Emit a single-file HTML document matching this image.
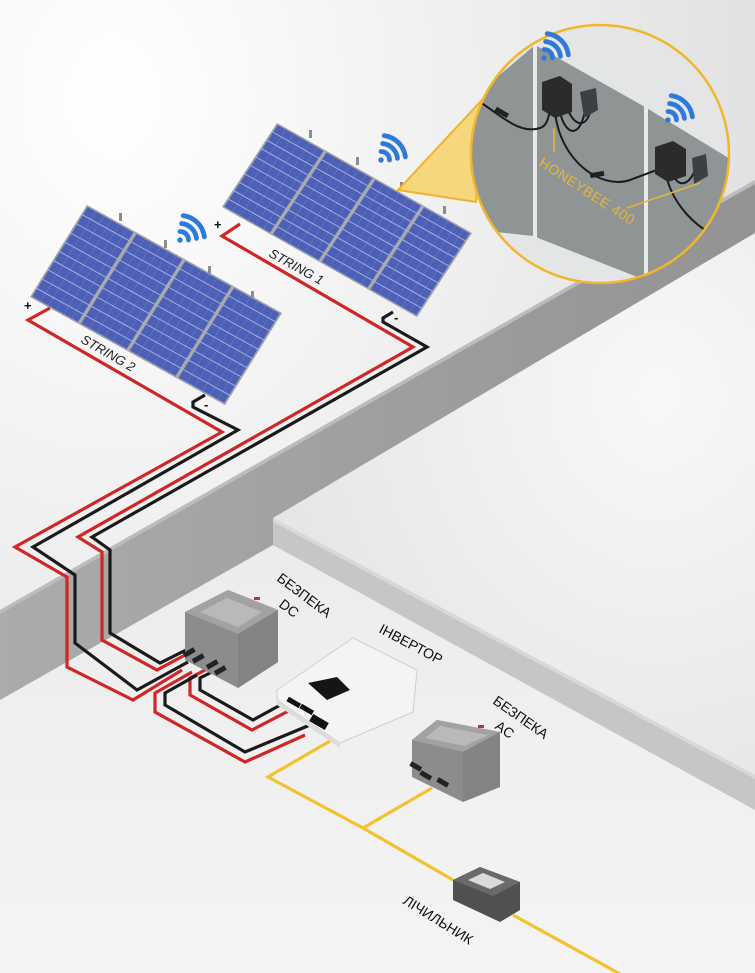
<!DOCTYPE html>
<html><head><meta charset="utf-8"><style>
html,body{margin:0;padding:0;background:#eee;}
svg{display:block;}
text{font-family:"Liberation Sans",sans-serif;}
</style></head><body>
<svg width="755" height="973" viewBox="0 0 755 973" xmlns="http://www.w3.org/2000/svg">
<defs>
<radialGradient id="bg" cx="0.15" cy="0.1" r="0.9">
<stop offset="0" stop-color="#ffffff"/><stop offset="0.6" stop-color="#ededed"/><stop offset="1" stop-color="#e0e0e0"/></radialGradient>
<linearGradient id="beam" x1="0" y1="0" x2="1" y2="0">
<stop offset="0" stop-color="#ababab"/><stop offset="1" stop-color="#939393"/></linearGradient>
<radialGradient id="fl" cx="0.8" cy="0.3" r="0.8">
<stop offset="0" stop-color="#f8f8f8"/><stop offset="1" stop-color="#e6e6e6"/></radialGradient>
<linearGradient id="lf" x1="0" y1="0" x2="0" y2="1">
<stop offset="0" stop-color="#ececec"/><stop offset="1" stop-color="#f4f4f4"/></linearGradient>
<clipPath id="cc"><circle cx="600" cy="154" r="129"/></clipPath>
<g id="arr">
<rect x="0" y="0" width="1" height="1" fill="#9aa0a8"/>
<rect x="0.008" y="0.015" width="0.234" height="0.97" fill="#4d60b6"/>
<rect x="0.258" y="0.015" width="0.234" height="0.97" fill="#4d60b6"/>
<rect x="0.508" y="0.015" width="0.234" height="0.97" fill="#4d60b6"/>
<rect x="0.758" y="0.015" width="0.234" height="0.97" fill="#4d60b6"/>
<path vector-effect="non-scaling-stroke" stroke="#7082cc" stroke-width="0.5" d="M0.05,0V1M0.09,0V1M0.13,0V1M0.17,0V1M0.21,0V1M0.30,0V1M0.34,0V1M0.38,0V1M0.42,0V1M0.46,0V1M0.55,0V1M0.59,0V1M0.63,0V1M0.67,0V1M0.71,0V1M0.80,0V1M0.84,0V1M0.88,0V1M0.92,0V1M0.96,0V1"/>
<path vector-effect="non-scaling-stroke" stroke="#a9b6e8" stroke-width="0.9" d="M0,0.1H1M0,0.2H1M0,0.3H1M0,0.4H1M0,0.5H1M0,0.6H1M0,0.7H1M0,0.8H1M0,0.9H1"/>
<path vector-effect="non-scaling-stroke" d="M0.25,0V1M0.5,0V1M0.75,0V1" stroke="#a8acb2" stroke-width="2.5"/>
</g>
<g id="wifi" fill="none" stroke="#2f7ad8" stroke-linecap="round" stroke-width="3.2">
<path d="M-4,-4 A5.6,5.6 0 0 1 4,-4"/>
<path d="M-7,-8.5 A11,11 0 0 1 7,-8.5"/>
<path d="M-10,-13 A16.4,16.4 0 0 1 10,-13"/>
<circle cx="0" cy="0" r="1.8" fill="#2f7ad8" stroke="none"/>
</g>
</defs>

<rect width="755" height="973" fill="url(#bg)"/>
<polygon points="273,518 755,233 755,775" fill="url(#fl)"/>
<polygon points="0,700 273,545 755,810 755,973 0,973" fill="url(#lf)"/>
<polygon points="273,518 755,775 755,810 273,545" fill="#c6c6c6"/>
<polygon points="273,518 755,775 755,779 273,522" fill="#d8d8d8"/>
<polygon points="0,610 755,180 755,233 273,518 273,545 0,700" fill="url(#beam)"/>
<polygon points="0,610 755,180 755,184 0,614" fill="#bcbcbc"/>

<g transform="matrix(195,110,-55,84,277,123)"><use href="#arr"/></g>
<g transform="matrix(195,108,-57,92,87,205)"><use href="#arr"/></g>
<g fill="#8a8e94">
<rect x="309" y="130" width="3" height="8"/><rect x="356" y="157" width="3" height="8"/><rect x="400" y="182" width="3" height="8"/><rect x="443" y="206" width="3" height="8"/>
<rect x="119" y="213" width="3" height="8"/><rect x="164" y="240" width="3" height="8"/><rect x="208" y="266" width="3" height="8"/><rect x="251" y="291" width="3" height="8"/>
</g>

<polygon points="398,190 482,100 476,202" fill="#f6d77e" stroke="#efb52a" stroke-width="2"/>
<g clip-path="url(#cc)">
<rect x="460" y="20" width="280" height="270" fill="#8f9595"/>
<polygon points="460,20 740,20 740,165 645,107 535,45 470,100 460,105" fill="#e3e5e6"/>
<polygon points="460,228 533,236 645,280 740,300 740,300 460,300" fill="#e3e5e6"/>
<rect x="533" y="44" width="4" height="194" fill="#e8eaea"/>
<rect x="644" y="106" width="4" height="178" fill="#e8eaea"/>
<g fill="none" stroke="#1b1b1b" stroke-width="2">
<path d="M480,102 C500,115 520,135 540,128 C550,125 548,110 552,108"/>
<path d="M555,112 C560,160 600,190 630,180 C650,172 660,170 665,165"/>
<path d="M560,112 C565,135 580,140 585,110"/>
<path d="M568,110 C575,128 590,130 592,100"/>
<path d="M665,170 C670,200 690,220 705,230"/>
<path d="M672,170 C676,190 692,188 698,160"/>
</g>
<rect x="495" y="110" width="14" height="5" fill="#222" transform="rotate(30 502 112)"/>
<rect x="590" y="172" width="14" height="5" fill="#222" transform="rotate(-10 597 174)"/>
<polygon points="542,82 560,76 572,84 572,112 555,118 542,110" fill="#2b2b2b"/>
<polygon points="580,92 596,88 598,110 584,118" fill="#3d3f44"/>
<polygon points="655,147 673,141 686,149 686,176 668,182 655,174" fill="#2b2b2b"/>
<polygon points="692,158 706,154 708,176 694,184" fill="#3d3f44"/>
<path d="M554,128 V152 M700,183 L627,208" stroke="#e8b53a" stroke-width="1.5"/>
<text transform="translate(538,165) rotate(33)" font-size="14" fill="#e8b53a" letter-spacing="0.5">HONEYBEE 400</text>
</g>
<circle cx="600" cy="154" r="129" fill="none" stroke="#f0b62c" stroke-width="2.5"/>

<use href="#wifi" transform="translate(544,58) rotate(45) scale(1.5)"/>
<use href="#wifi" transform="translate(668,120) rotate(45) scale(1.5)"/>
<use href="#wifi" transform="translate(381,160) rotate(45) scale(1.5)"/>
<use href="#wifi" transform="translate(180,240) rotate(45) scale(1.5)"/>

<g fill="none" stroke-width="3.2">
<path d="M240,224 L222,236 L413,347 L78,537 L102,552 L102,640 L157,670 L185,655" stroke="#d02626"/>
<path d="M393,312 L383,318 L383,322 L427,347 L92,537 L110,550 L110,633 L160,663 L190,648" stroke="#1a1a1a"/>
<path d="M50,308 L28,320 L222,432 L15,547 L67,577 L67,667 L133,700 L182,670" stroke="#d02626"/>
<path d="M205,395 L193,402 L193,407 L238,430 L33,547 L75,575 L75,643 L137,690 L188,662" stroke="#1a1a1a"/>
<path d="M212,672 L200,678 L200,690 L253,720 L295,697" stroke="#1a1a1a"/>
<path d="M207,669 L190,678 L190,695 L252,730 L300,705" stroke="#d02626"/>
<path d="M197,675 L165,693 L165,705 L245,752 L310,725" stroke="#1a1a1a"/>
<path d="M192,672 L155,693 L155,712 L245,762 L305,735" stroke="#d02626"/>
</g>
<g font-size="13" font-weight="bold" fill="#111">
<text x="214" y="229">+</text><text x="24" y="310">+</text>
<text x="394" y="322">-</text><text x="204" y="409">-</text>
</g>
<text transform="translate(268,256) rotate(29)" font-size="13" font-style="italic" fill="#222">STRING 1</text>
<text transform="translate(80,342) rotate(30)" font-size="13" font-style="italic" fill="#222">STRING 2</text>

<g fill="none" stroke="#f2c12e" stroke-width="3.2">
<path d="M337,737 L268,777 L363,828 L453,880"/>
<path d="M513,915 L640,985"/>
<path d="M363,828 L432,788"/>
</g>

<polygon points="185,612 228,590 278,610 278,662 238,688 185,660" fill="#8c8c8c"/>
<polygon points="185,612 228,590 278,610 238,634" fill="#a2a2a2"/>
<polygon points="200,612 227,598 262,612 238,627" fill="#b9b9b9"/>
<polygon points="238,634 278,610 278,662 238,688" fill="#838383"/>
<g fill="#222"><rect x="183" y="650" width="12" height="5" transform="rotate(-30 189 652)"/><rect x="192" y="656" width="12" height="5" transform="rotate(-30 198 658)"/><rect x="206" y="662" width="12" height="5" transform="rotate(-30 212 664)"/><rect x="214" y="668" width="12" height="5" transform="rotate(-30 220 670)"/></g>
<rect x="254" y="597" width="6" height="3" fill="#c03030"/>

<polygon points="277,690 353,638 417,670 413,712 340,743 277,700" fill="#f4f4f4" stroke="#cfcfcf"/>
<polygon points="277,700 340,743 340,748 277,705" fill="#dcdcdc"/>
<polygon points="308,683 337,677 350,690 327,700" fill="#151515"/>
<g fill="#111"><rect x="287" y="700" width="14" height="5" transform="rotate(30 294 702)"/><rect x="300" y="707" width="14" height="5" transform="rotate(30 307 709)"/><rect x="310" y="718" width="18" height="8" transform="rotate(30 319 722)"/></g>

<polygon points="412,740 437,720 500,732 500,787 463,802 412,777" fill="#8c8c8c"/>
<polygon points="412,740 437,720 500,732 463,752" fill="#a2a2a2"/>
<polygon points="425,738 440,726 488,735 465,746" fill="#b9b9b9"/>
<polygon points="463,752 500,732 500,787 463,802" fill="#838383"/>
<g fill="#222"><rect x="410" y="764" width="12" height="5" transform="rotate(30 416 766)"/><rect x="420" y="773" width="12" height="5" transform="rotate(30 426 775)"/><rect x="437" y="780" width="12" height="5" transform="rotate(30 443 782)"/></g>
<rect x="478" y="725" width="6" height="3" fill="#c03030"/>

<polygon points="453,880 480,867 520,882 520,910 500,922 453,900" fill="#505050"/>
<polygon points="453,880 480,867 520,882 493,896" fill="#6a6a6a"/>
<polygon points="468,880 483,873 505,882 490,889" fill="#d8dcd8"/>

<g font-size="14" fill="#111">
<text transform="translate(276,580) rotate(37)">БЕЗПЕКА</text>
<text transform="translate(278,606) rotate(37)">DC</text>
<text transform="translate(378,632) rotate(28)">ІНВЕРТОР</text>
<text transform="translate(492,703) rotate(35)">БЕЗПЕКА</text>
<text transform="translate(494,728) rotate(35)">AC</text>
<text transform="translate(402,903) rotate(32)">ЛІЧИЛЬНИК</text>
</g>
</svg>
</body></html>
